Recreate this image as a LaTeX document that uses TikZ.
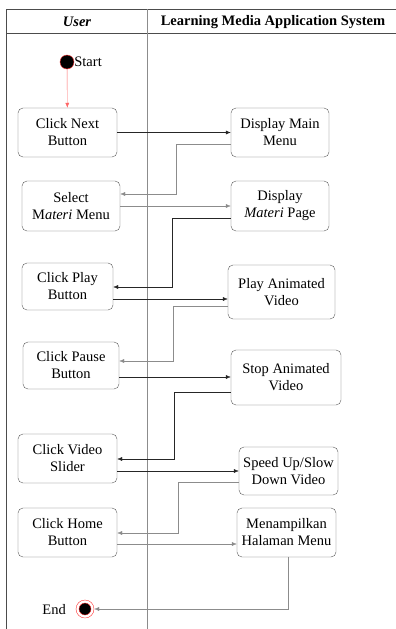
\documentclass[tikz,border=0pt]{standalone}
\usepackage{fontspec}
\setmainfont{Liberation Serif}
\usetikzlibrary{arrows.meta}

\begin{document}
\begin{tikzpicture}[x=1pt,y=-1pt,
  act/.style={draw=black!65,rounded corners=5pt,align=center,inner sep=1pt,
    font=\fontsize{14.5}{17}\selectfont},
  flow/.style={draw=black!85,-{Latex[length=5pt,width=4pt]}},
  back/.style={draw=black!45,-{Latex[length=5pt,width=4pt]}},
  lane/.style={draw=black!70,line width=0.9pt}]
\useasboundingbox (0,0) rectangle (396,629);
\draw[lane] (396,9) -- (6,9) -- (6,629);
\draw[lane] (6,33) -- (396,33);
\draw[black!45] (147,9) -- (147,629);
\node[font=\fontsize{14.5}{17}\selectfont\bfseries\itshape] (hUser) at (77,22) {User};
\node[font=\fontsize{14.5}{17}\selectfont\bfseries] (hSys) at (273,22) {Learning Media Application System};

\node[circle,fill=black,draw=red!80,inner sep=0pt,minimum size=14pt] (start) at (67,62) {};
\node[anchor=west,inner sep=0pt,font=\fontsize{14.5}{17}\selectfont] (startL) at (start.east) {Start};

\node[act,minimum width=99pt,minimum height=49pt] (next) at (67.5,132.5) {Click Next\\Button};
\node[act,minimum width=98pt,minimum height=49pt] (main) at (280,132.5) {Display Main\\Menu};
\node[act,minimum width=98pt,minimum height=50pt] (select) at (71,206) {Select\\M\textit{ateri} Menu};
\node[act,minimum width=98pt,minimum height=50pt] (materi) at (280,206) {Display\\\textit{Materi} Page};
\node[act,minimum width=91pt,minimum height=47pt] (play) at (67.5,286.5) {Click Play\\Button};
\node[act,minimum width=107pt,minimum height=54pt] (playvid) at (281.5,292) {Play Animated\\Video};
\node[act,minimum width=96pt,minimum height=47pt] (pause) at (71,365.5) {Click Pause\\Button};
\node[act,minimum width=110pt,minimum height=55pt] (stop) at (286,377.5) {Stop Animated\\Video};
\node[act,minimum width=99pt,minimum height=49pt] (slider) at (67.5,458.5) {Click Video\\Slider};
\node[act,minimum width=99pt,minimum height=48pt] (speed) at (288.5,471) {Speed Up/Slow\\Down Video};
\node[act,minimum width=99pt,minimum height=49pt] (home) at (67.5,532.5) {Click Home\\Button};
\node[act,minimum width=99pt,minimum height=49pt] (menu) at (286.5,532.5) {Menampilkan\\Halaman Menu};

\node[circle,draw=red!80,inner sep=0pt,minimum size=18pt] (end) at (85,609) {};
\node[circle,fill=black,draw=red!80,inner sep=0pt,minimum size=12pt] (endIn) at (end) {};
\node[anchor=east,inner sep=0pt,font=\fontsize{14.5}{17}\selectfont] (endL) at (66,610) {End};

\draw[draw=red!60,-{Latex[length=5pt,width=4pt]}] (start) -- (next);
\draw[flow] (next) -- (main);
\draw[back] (main.west |- 0,144) -| (176,194) -- (select.east |- 0,194);
\draw[back] (select) -- (materi);
\draw[flow] (materi.west |- 0,218) -| (172,287) -- (play.east |- 0,287);
\draw[flow] (play.east |- 0,299) -- (playvid.west |- 0,299);
\draw[back] (playvid.west |- 0,306) -| (173,361) -- (pause.east |- 0,361);
\draw[flow] (pause.east |- 0,377) -- (stop.west |- 0,377);
\draw[flow] (stop.west |- 0,392) -| (174,459) -- (slider.east |- 0,459);
\draw[flow] (slider.east |- 0,471) -- (speed.west |- 0,471);
\draw[back] (speed.west |- 0,482) -| (178,533) -- (home.east |- 0,533);
\draw[back] (home.east |- 0,544) -- (menu.west |- 0,544);
\draw[back] (menu.south -| 288,0) |- (end);
\end{tikzpicture}
\end{document}
